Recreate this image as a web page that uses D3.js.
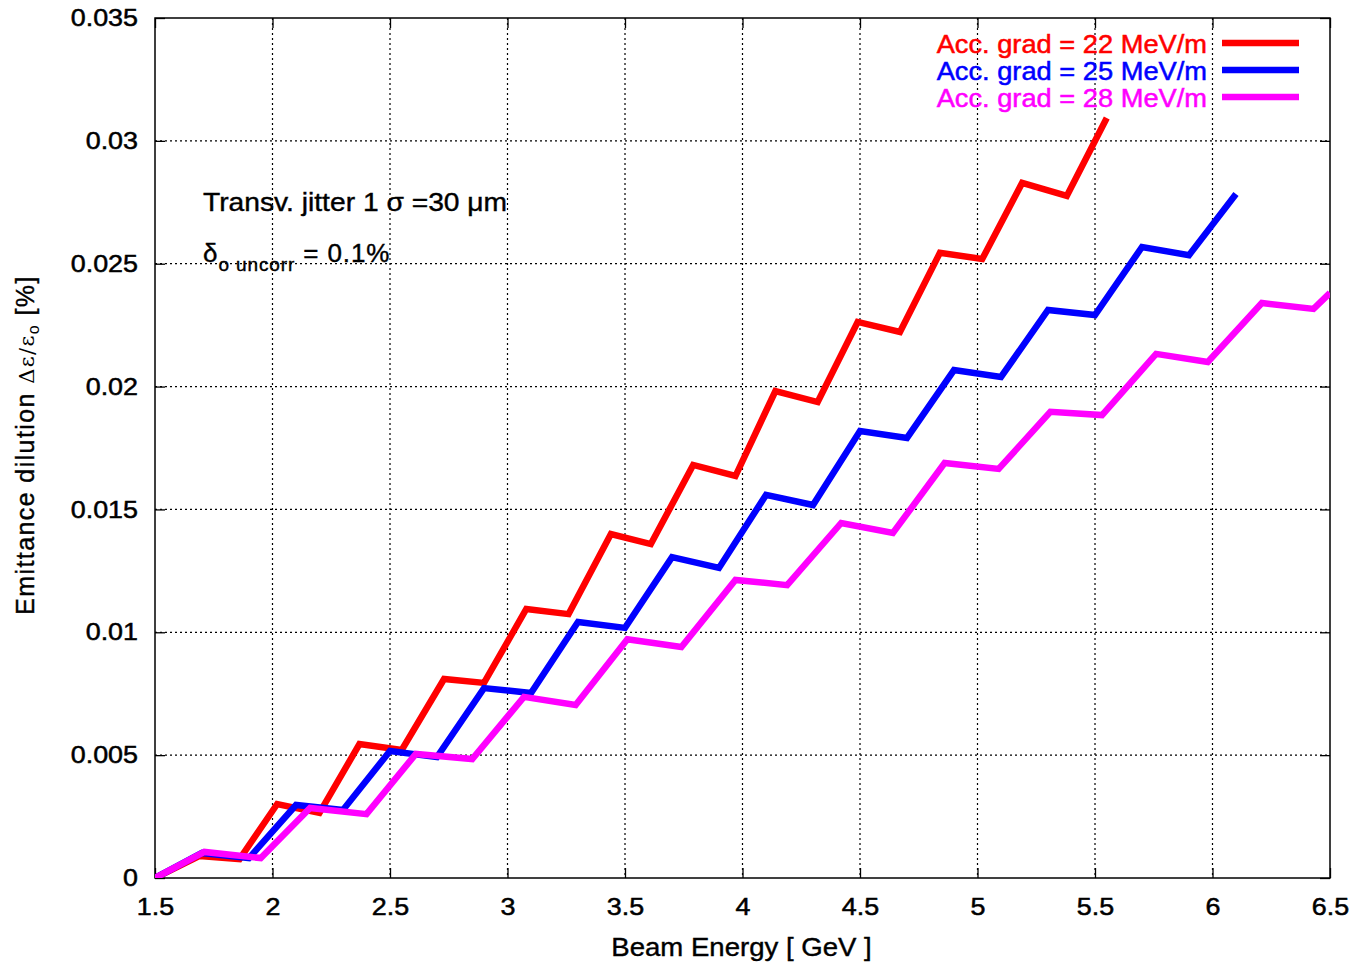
<!DOCTYPE html>
<html>
<head>
<meta charset="utf-8">
<script src="https://cdn.jsdelivr.net/npm/d3@7"></script>
<style>
  body{margin:0;background:#fff;}
  text{font-family:"Liberation Sans",Arial,Helvetica,sans-serif;}
</style>
</head>
<body>
<script>
// beam energy [GeV] and emittance dilution [%] for each gradient
const energy22=[1.5,1.69,1.86,2.02,2.2,2.37,2.55,2.73,2.9,3.08,3.26,3.44,3.61,3.79,3.97,4.14,4.32,4.49,4.67,4.84,5.02,5.19,5.38,5.55];
const dil22=[0,0.0009,0.00077,0.00301,0.00265,0.00545,0.00521,0.0081,0.00794,0.01095,0.01074,0.014,0.01359,0.01681,0.01636,0.01982,0.01937,0.02263,0.02222,0.02544,0.02519,0.02829,0.02776,0.03093];
const energy25=[1.5,1.7,1.9,2.1,2.3,2.5,2.7,2.9,3.1,3.3,3.5,3.7,3.9,4.1,4.3,4.5,4.7,4.9,5.1,5.3,5.5,5.7,5.9,6.1];
const dil25=[0,0.00102,0.00081,0.00297,0.00277,0.00517,0.00492,0.00773,0.00753,0.01042,0.01018,0.01306,0.01262,0.01559,0.01518,0.01819,0.01791,0.02067,0.02039,0.02312,0.02291,0.02568,0.02535,0.02784];
const energy28=[1.5,1.71,1.95,2.16,2.4,2.61,2.85,3.07,3.29,3.51,3.74,3.97,4.19,4.42,4.64,4.86,5.09,5.31,5.53,5.76,5.98,6.21,6.43,6.5];
const dil28=[0,0.00106,0.00081,0.00285,0.0026,0.00505,0.00484,0.00737,0.00704,0.00972,0.0094,0.01213,0.01192,0.01445,0.01404,0.01689,0.01665,0.01897,0.01884,0.02133,0.021,0.0234,0.02316,0.02381];
const seriesNames=["Acc. grad = 22 MeV/m","Acc. grad = 25 MeV/m","Acc. grad = 28 MeV/m"];
const seriesColors=["#ff0000","#0000ff","#ff00ff"];
const xTicks=[1.5,2,2.5,3,3.5,4,4.5,5,5.5,6,6.5];
const yTicks=[0,0.005,0.01,0.015,0.02,0.025,0.03,0.035];

const series=[[energy22,dil22],[energy25,dil25],[energy28,dil28]].map(([xs,ys],i)=>({
  name:seriesNames[i],color:seriesColors[i],pts:xs.map((v,j)=>({e:v,d:ys[j]}))
}));

const W=1353,H=963,m={top:18,right:23,bottom:85,left:155};
const w=W-m.left-m.right,h=H-m.top-m.bottom;
const svg=d3.select("body").append("svg").attr("width",W).attr("height",H);
const g=svg.append("g").attr("transform",`translate(${m.left},${m.top})`);
const x=d3.scaleLinear().domain([1.5,6.5]).range([0,w]);
const y=d3.scaleLinear().domain([0,0.035]).range([h,0]);
const fmt=d=>d===0?"0":String(+d.toFixed(3));
// the reference lettering is a little wider than Liberation Sans
const stretch=(sel,k)=>sel.each(function(){
  const n=this.getComputedTextLength();
  if(n>0) d3.select(this).attr("textLength",n*k).attr("lengthAdjust","spacingAndGlyphs");
});

// dotted grid
g.append("g").selectAll("line").data(xTicks.slice(1,-1)).join("line")
  .attr("x1",d=>x(d)).attr("x2",d=>x(d)).attr("y1",0).attr("y2",h)
  .attr("stroke","#000").attr("stroke-width",1.2).attr("stroke-dasharray","2,3");
g.append("g").selectAll("line").data(yTicks.slice(1,-1)).join("line")
  .attr("y1",d=>y(d)).attr("y2",d=>y(d)).attr("x1",0).attr("x2",w)
  .attr("stroke","#000").attr("stroke-width",1.2).attr("stroke-dasharray","2,3");

// inward ticks on all sides
const styleAx=s=>{s.select(".domain").remove();s.selectAll("line").attr("stroke","#000").attr("stroke-width",1.3);
  s.selectAll("text").attr("font-size",24).attr("fill","#000").attr("stroke","#000").attr("stroke-width",0.5)
   .attr("font-family","'Liberation Sans',Arial,sans-serif");};
g.append("g").attr("transform",`translate(0,${h})`)
  .call(d3.axisBottom(x).tickValues(xTicks).tickFormat(fmt).tickSize(-10).tickPadding(20)).call(styleAx)
  .call(s=>stretch(s.selectAll("text"),1.12));
g.append("g").call(d3.axisTop(x).tickValues(xTicks).tickFormat("").tickSize(-10)).call(styleAx);
g.append("g")
  .call(d3.axisLeft(y).tickValues(yTicks).tickFormat(fmt).tickSize(-10).tickPadding(17)).call(styleAx)
  .call(s=>stretch(s.selectAll("text"),1.12));
g.append("g").attr("transform",`translate(${w},0)`)
  .call(d3.axisRight(y).tickValues(yTicks).tickFormat("").tickSize(-10)).call(styleAx);

g.append("rect").attr("width",w).attr("height",h).attr("fill","none").attr("stroke","#000").attr("stroke-width",1.5);

// curves
svg.append("clipPath").attr("id","plotclip").append("rect").attr("width",w).attr("height",h);
const line=d3.line().x(d=>x(d.e)).y(d=>y(d.d));
g.append("g").attr("clip-path","url(#plotclip)").selectAll("path").data(series).join("path")
  .attr("d",d=>line(d.pts)).attr("fill","none").attr("stroke",d=>d.color)
  .attr("stroke-width",6.5).attr("stroke-linejoin","miter");

// legend
const lg=svg.append("g");
series.forEach((s,i)=>{
  const by=53+i*27;
  lg.append("text").attr("x",1207).attr("y",by).attr("text-anchor","end")
    .attr("font-size",25).attr("fill",s.color).attr("stroke",s.color).attr("stroke-width",0.5).text(s.name)
    .call(t=>stretch(t,1.09));
  lg.append("line").attr("x1",1222).attr("x2",1299).attr("y1",by-10).attr("y2",by-10)
    .attr("stroke",s.color).attr("stroke-width",6.5);
});

// annotations
svg.append("text").attr("x",203).attr("y",211).attr("font-size",26).attr("fill","#000")
  .attr("stroke","#000").attr("stroke-width",0.4).text("Transv. jitter 1 σ =30 μm")
  .call(t=>stretch(t,1.085));
const t2=svg.append("text").attr("x",203).attr("y",262).attr("font-size",26).attr("fill","#000")
  .attr("stroke","#000").attr("stroke-width",0.4).attr("letter-spacing",0.9);
t2.append("tspan").text("δ");
t2.append("tspan").attr("font-size",19).attr("dy",9).text("o uncorr");
t2.append("tspan").attr("dy",-9).attr("dx",8).text("= 0.1%");

// axis titles
svg.append("text").attr("x",m.left+w/2-1).attr("y",956).attr("text-anchor","middle")
  .attr("font-size",26).attr("fill","#000").attr("stroke","#000").attr("stroke-width",0.4).text("Beam Energy [ GeV ]")
  .call(t=>stretch(t,1.06));
const yl=svg.append("text").attr("transform","translate(34,445) rotate(-90)").attr("text-anchor","middle")
  .attr("font-size",25).attr("fill","#000").attr("stroke","#000").attr("stroke-width",0.4).attr("letter-spacing",1.4);
yl.append("tspan").text("Emittance dilution ");
yl.append("tspan").attr("font-size",21).attr("font-family","'DejaVu Serif',serif").attr("stroke-width",0).text("Δε/ε");
yl.append("tspan").attr("font-size",16).attr("dy",5).attr("stroke-width",0).text("o");
yl.append("tspan").attr("dy",-5).text(" [%]");
</script>
</body>
</html>
